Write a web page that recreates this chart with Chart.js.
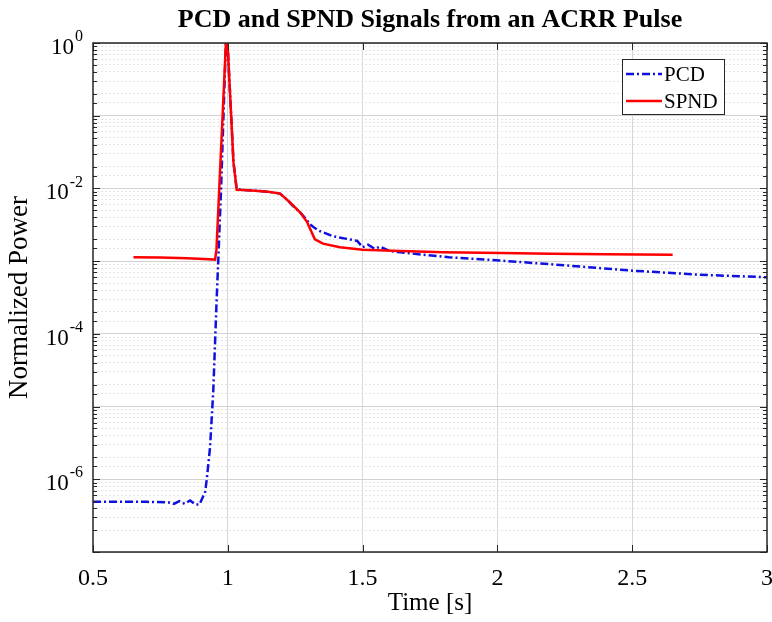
<!DOCTYPE html>
<html>
<head>
<meta charset="utf-8">
<script src="https://cdn.jsdelivr.net/npm/chart.js@4/dist/chart.umd.min.js"></script>
<style>
  html, body { margin: 0; padding: 0; background: #fff; }
  #wrap { width: 772px; height: 622px; }
</style>
</head>
<body>
<div id="wrap"><canvas id="chart" width="772" height="622"></canvas></div>
<script>
// Chart text
var chartTitle = 'PCD and SPND Signals from an ACRR Pulse';
var xTitle = 'Time [s]';
var yTitle = 'Normalized Power';
var seriesNames = ['PCD', 'SPND'];

// Axis ticks
var xTicks = [0.5, 1, 1.5, 2, 2.5, 3];
var yLabelTicks = [1e0, 1e-2, 1e-4, 1e-6];

// PCD signal
var pcdTime = [0.50, 0.60, 0.70, 0.78, 0.80, 0.82, 0.84, 0.86, 0.88, 0.895, 0.91, 0.915, 0.922,
  0.934, 0.946, 0.959, 0.965, 0.975, 0.993, 0.996, 0.999, 1.021, 1.033, 1.06, 1.10, 1.15, 1.194,
  1.22, 1.24, 1.255, 1.27, 1.29, 1.305, 1.32, 1.34, 1.39, 1.45, 1.48, 1.50, 1.52, 1.545, 1.565,
  1.60, 1.64, 1.82, 2.01, 2.26, 2.50, 2.75, 3.00];
var pcdPower = [4.9e-7, 4.9e-7, 4.9e-7, 4.8e-7, 4.6e-7, 5.0e-7, 4.6e-7, 5.1e-7, 4.5e-7, 4.5e-7, 6.0e-7, 6.3e-7, 1.0e-6,
  2.7e-6, 1.6e-5, 3.2e-4, 1.1e-3, 1.0e-2, 1.0, 1.15, 1.0, 2.3e-2, 9.8e-3, 9.5e-3, 9.3e-3, 9.0e-3, 8.5e-3,
  7.0e-3, 5.8e-3, 5.2e-3, 4.6e-3, 3.8e-3, 3.2e-3, 2.9e-3, 2.6e-3, 2.2e-3, 2.0e-3, 1.9e-3, 1.55e-3, 1.68e-3, 1.48e-3, 1.58e-3,
  1.38e-3, 1.32e-3, 1.13e-3, 1.02e-3, 8.7e-4, 7.4e-4, 6.5e-4, 6.0e-4];

// SPND signal
var spndTime = [0.65, 0.75, 0.85, 0.93, 0.953, 0.958, 0.993, 0.996, 0.999, 1.021, 1.033, 1.06, 1.10,
  1.15, 1.194, 1.231, 1.268, 1.293, 1.323, 1.353, 1.416, 1.50, 1.64, 1.80, 2.01, 2.20, 2.40, 2.65];
var spndPower = [1.13e-3, 1.12e-3, 1.10e-3, 1.06e-3, 1.05e-3, 1.45e-3, 1.0, 1.15, 1.0, 2.3e-2, 9.6e-3, 9.5e-3, 9.3e-3,
  9.0e-3, 8.5e-3, 6.4e-3, 4.7e-3, 3.5e-3, 2.0e-3, 1.74e-3, 1.55e-3, 1.44e-3, 1.38e-3, 1.33e-3, 1.29e-3, 1.26e-3, 1.24e-3, 1.22e-3];

var serif = '"Liberation Serif", "Times New Roman", serif';
var pcdColor = '#1010e0';
var spndColor = '#ff0000';
var pcdDash = [8, 3, 2, 3];

function toPoints(xs, ys) {
  return xs.map(function (x, i) { return { x: x, y: ys[i] }; });
}

function isDecade(v) {
  var l = Math.log10(v);
  return Math.abs(l - Math.round(l)) < 1e-9;
}

// Title, box, inward ticks, superscript y labels and legend
var decorPlugin = {
  id: 'decor',
  afterDraw: function (chart) {
    var ctx = chart.ctx;
    var a = chart.chartArea;
    var xs = chart.scales.x;
    var ys = chart.scales.y;
    ctx.save();

    // title
    ctx.fillStyle = '#000';
    ctx.font = 'bold 26px ' + serif;
    ctx.textAlign = 'center';
    ctx.textBaseline = 'middle';
    ctx.fillText(chartTitle, (a.left + a.right) / 2, 20);

    // inward tick marks
    ctx.strokeStyle = '#262626';
    ctx.lineWidth = 1;
    ctx.beginPath();
    ys.ticks.forEach(function (t) {
      var py = Math.round(ys.getPixelForValue(t.value)) + 0.5;
      var len = isDecade(t.value) ? 7 : 4;
      ctx.moveTo(a.left, py); ctx.lineTo(a.left + len, py);
      ctx.moveTo(a.right, py); ctx.lineTo(a.right - len, py);
    });
    xTicks.forEach(function (v) {
      var px = Math.round(xs.getPixelForValue(v)) + 0.5;
      ctx.moveTo(px, a.bottom); ctx.lineTo(px, a.bottom - 7);
      ctx.moveTo(px, a.top); ctx.lineTo(px, a.top + 7);
    });
    ctx.stroke();

    // axes box
    ctx.lineWidth = 1.5;
    ctx.strokeRect(a.left, a.top, a.right - a.left, a.bottom - a.top);

    // y labels 10^n
    ctx.fillStyle = '#000';
    ctx.textBaseline = 'middle';
    ctx.textAlign = 'left';
    yLabelTicks.forEach(function (v) {
      var py = ys.getPixelForValue(v);
      var exp = String(Math.round(Math.log10(v)));
      ctx.font = '23px ' + serif;
      var wb = ctx.measureText('10').width;
      ctx.font = '16px ' + serif;
      var we = ctx.measureText(exp).width;
      var right = a.left - 10;
      var x0 = right - we - wb - 1;
      ctx.font = '23px ' + serif;
      ctx.fillText('10', x0, py + 5);
      ctx.font = '16px ' + serif;
      ctx.fillText(exp, x0 + wb + 1, py - 6);
    });

    // legend
    var lx = a.right - 145, ly = a.top + 16, lw = 102, lh = 55;
    ctx.fillStyle = '#fff';
    ctx.fillRect(lx, ly, lw, lh);
    ctx.strokeStyle = '#262626';
    ctx.lineWidth = 1;
    ctx.strokeRect(lx + 0.5, ly + 0.5, lw, lh);
    var rows = [
      { name: seriesNames[0], color: pcdColor, dash: pcdDash, y: ly + 15 },
      { name: seriesNames[1], color: spndColor, dash: [], y: ly + 42 }
    ];
    rows.forEach(function (r) {
      ctx.strokeStyle = r.color;
      ctx.lineWidth = 2.5;
      ctx.setLineDash(r.dash);
      ctx.beginPath();
      ctx.moveTo(lx + 4, r.y);
      ctx.lineTo(lx + 40, r.y);
      ctx.stroke();
      ctx.setLineDash([]);
      ctx.fillStyle = '#000';
      ctx.font = '21px ' + serif;
      ctx.textAlign = 'left';
      ctx.textBaseline = 'middle';
      ctx.fillText(r.name, lx + 42, r.y + 1);
    });
    ctx.restore();
  }
};

new Chart(document.getElementById('chart').getContext('2d'), {
  type: 'line',
  data: {
    datasets: [
      {
        label: seriesNames[0],
        data: toPoints(pcdTime, pcdPower),
        borderColor: pcdColor,
        borderWidth: 2.5,
        borderDash: pcdDash,
        pointRadius: 0,
        tension: 0,
        fill: false,
        order: 2
      },
      {
        label: seriesNames[1],
        data: toPoints(spndTime, spndPower),
        borderColor: spndColor,
        borderWidth: 2.5,
        pointRadius: 0,
        tension: 0,
        fill: false,
        order: 1
      }
    ]
  },
  options: {
    responsive: false,
    animation: false,
    layout: { padding: { top: 43, right: 5, left: 0, bottom: 0 } },
    plugins: {
      legend: { display: false },
      title: { display: false },
      tooltip: { enabled: false }
    },
    scales: {
      x: {
        type: 'linear',
        min: 0.5,
        max: 3,
        afterFit: function (s) {
          s.height = 70;
          s.paddingLeft = 0;
          s.paddingRight = 0;
        },
        afterBuildTicks: function (s) {
          s.ticks = xTicks.map(function (v) { return { value: v }; });
        },
        ticks: {
          padding: 12,
          color: '#000',
          font: { family: serif, size: 24 },
          maxRotation: 0,
          autoSkip: false,
          callback: function (v) { return String(v); }
        },
        grid: {
          color: function (c) {
            return (c.tick && (c.tick.value === 0.5 || c.tick.value === 3)) ? 'rgba(0,0,0,0)' : '#d8d8d8';
          },
          lineWidth: 1,
          drawTicks: false
        },
        border: { display: false },
        title: {
          display: true,
          text: xTitle,
          color: '#000',
          font: { family: serif, size: 25 },
          padding: { top: 0, bottom: 4 }
        }
      },
      y: {
        type: 'logarithmic',
        min: 1e-7,
        max: 1,
        afterFit: function (s) {
          s.width = 93;
          s.paddingTop = 0;
          s.paddingBottom = 0;
        },
        ticks: {
          autoSkip: false,
          callback: function () { return ''; }
        },
        grid: {
          color: function (c) {
            if (!c.tick) return '#d8d8d8';
            return isDecade(c.tick.value) ? '#d2d2d2' : '#e4e4e4';
          },
          lineWidth: 1,
          drawTicks: false
        },
        border: {
          display: false,
          dash: function (c) {
            if (!c.tick) return [];
            return isDecade(c.tick.value) ? [] : [2, 2];
          }
        },
        title: {
          display: true,
          text: yTitle,
          color: '#000',
          font: { family: serif, size: 27 },
          padding: { top: 4, bottom: 0 }
        }
      }
    }
  },
  plugins: [decorPlugin]
});
</script>
</body>
</html>
